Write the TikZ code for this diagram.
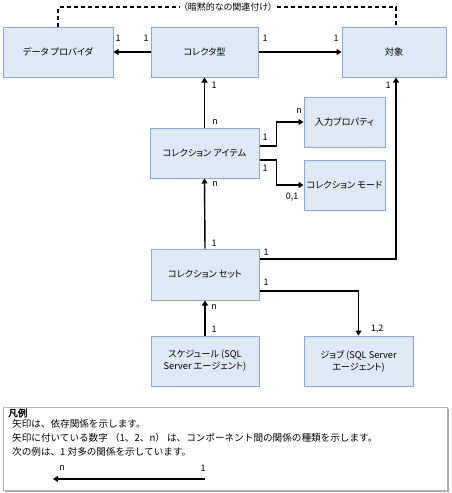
\documentclass[tikz,border=0pt]{standalone}
\usepackage{fontspec}
\setmainfont{Noto Sans CJK JP}[RawFeature=+palt,AutoFakeBold=2]
\newfontfamily\legfont{Noto Sans CJK JP}[AutoFakeBold=2]
\usetikzlibrary{arrows.meta}
\definecolor{boxfill}{RGB}{224,232,245}
\definecolor{boxline}{RGB}{138,166,218}
\tikzset{
  ent/.style={draw=boxline,fill=boxfill,line width=1pt,minimum height=50pt,inner sep=2pt,align=center,font=\fontsize{9.2}{12}\selectfont},
  arr/.style={line width=1.4pt,-{Triangle[length=5pt,width=6pt]}},
  lbl/.style={inner sep=0pt,font=\fontsize{9}{10}\selectfont},
  txt/.style={inner sep=0pt,anchor=west,font=\legfont\fontsize{9.6}{11}\selectfont},
}
\begin{document}
\begin{tikzpicture}[x=1pt,y=-1pt]
\useasboundingbox (0,0) rectangle (451,493);
% entities
\node[ent,minimum width=110pt] (dp) at (58,52) {データ プロバイダ};
\node[ent,minimum width=107pt] (ct) at (204.5,52) {コレクタ型};
\node[ent,minimum width=104pt] (obj) at (394,52) {対象};
\node[ent,minimum width=109pt] (item) at (204.5,153) {コレクション アイテム};
\node[ent,minimum width=81pt] (inp) at (344.5,122) {入力プロパティ};
\node[ent,minimum width=81pt] (mode) at (344.5,185) {コレクション モード};
\node[ent,minimum width=108pt,minimum height=51pt] (set) at (205,274.5) {コレクション セット};
\node[ent,minimum width=108pt] (sch) at (205,361) {スケジュール (SQL\\Server エージェント)};
\node[ent,minimum width=109pt] (job) at (358.5,361) {ジョブ (SQL Server\\エージェント)};
% implicit association
\coordinate (dtop) at (228,7);
\draw[line width=1.2pt,dash pattern=on 4pt off 3pt] (dp.north) |- (dtop) -| ([xshift=2pt]obj.north);
\node[lbl,fill=white,inner xsep=3pt] (impl) at (dtop) {（暗黙的なの関連付け）};
% connectors
\draw[arr] (ct.west) -- (dp.east);
\draw[arr] (ct.east) -- (obj.west);
\draw[arr] (item.north) -- (ct.south);
\draw[arr] ([yshift=7pt]item.east) -- ++(17,0) |- (inp.west);
\draw[arr] ([yshift=-7pt]item.east) -- ++(17,0) |- (mode.west);
\draw[arr] (set.north) -- (item.south);
\draw[arr] ([yshift=15.5pt]set.east) -| ([xshift=2pt]obj.south);
\draw[arr] ([yshift=-16.5pt]set.east) -| (job.north);
\draw[arr] (sch.north) -- (set.south);
% multiplicity labels
\node[lbl] (m1) at (118,38) {1};
\node[lbl] (m2) at (146,38) {1};
\node[lbl] (m3) at (265,38) {1};
\node[lbl] (m4) at (336,38) {1};
\node[lbl] (m5) at (214,85) {1};
\node[lbl] (m6) at (388,85) {1};
\node[lbl] (m7) at (215,122) {n};
\node[lbl] (m8) at (299,111) {n};
\node[lbl] (m9) at (265,137) {1};
\node[lbl] (m10) at (265,168) {1};
\node[lbl] (m11) at (215,184) {n};
\node[lbl] (m12) at (292,197) {0,1};
\node[lbl] (m13) at (214,243) {1};
\node[lbl] (m14) at (266,252) {1};
\node[lbl] (m15) at (266,282) {1};
\node[lbl] (m16) at (214,307) {n};
\node[lbl] (m17) at (214,329) {1};
\node[lbl] (m18) at (377,329) {1,2};
% legend
\fill[gray!70] (5,409) rectangle (449,492);
\draw[gray!60,fill=white] (3,407) rectangle (447,490);
\node[txt,font=\legfont\bfseries\fontsize{9.6}{11}\selectfont] (lh) at (8,413) {凡例};
\node[txt] (lt1) at (12,424) {矢印は、依存関係を示します。};
\node[txt] (lt2) at (12,438) {矢印に付いている数字 （1、2、n） は、コンポーネント間の関係の種類を示します。};
\node[txt] (lt3) at (12,452) {次の例は、1 対多の関係を示しています。};
\coordinate (la) at (205,479);
\coordinate (lb) at (53,479);
\draw[arr] (la) -- (lb);
\node[lbl] (ln) at (62,468) {n};
\node[lbl] (l1) at (203,468) {1};
\end{tikzpicture}
\end{document}
